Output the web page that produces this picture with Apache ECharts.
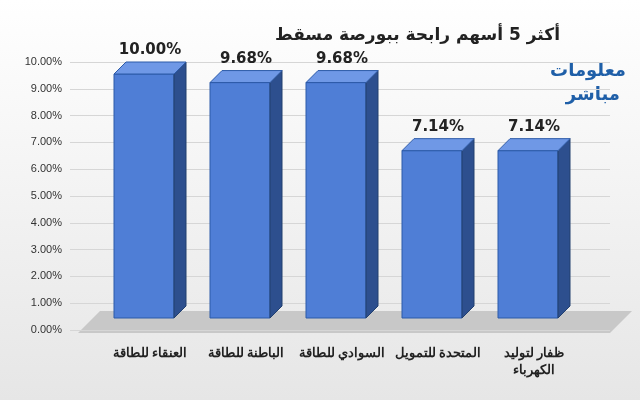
<!DOCTYPE html>
<html><head><meta charset="utf-8">
<script src="https://cdn.jsdelivr.net/npm/echarts@6/dist/echarts.min.js"></script>
<style>html,body{margin:0;padding:0;}#c{width:640px;height:400px;background:linear-gradient(#ffffff,#e6e6e6);}</style>
</head><body><div id="c"></div>
<script>
var categories = ['العنقاء للطاقة','الباطنة للطاقة','السوادي للطاقة','المتحدة للتمويل','ظفار لتوليد\nالكهرباء'];
var values = [10.00, 9.68, 9.68, 7.14, 7.14];
var chart = echarts.init(document.getElementById('c'));
var D = 12;
chart.setOption({
  title:{text:'أكثر 5 أسهم رابحة ببورصة مسقط',right:75,top:22,textStyle:{fontSize:17,fontWeight:'bold',color:'#222',fontFamily:'DejaVu Sans'}},
  graphic:[
    {type:'polygon',z:-1,shape:{points:[[78,333],[610,333],[632,311],[100,311]]},style:{fill:'#c8c8c8'}},
    {type:'text',right:14,top:62,style:{text:'معلومات',fill:'#1f5fa8',font:'bold 18px "DejaVu Sans"'}},
    {type:'text',right:20,top:86,style:{text:'مباشر',fill:'#1f5fa8',font:'bold 18px "DejaVu Sans"'}}
  ],
  grid:[{left:102,right:58,top:62,bottom:70},{left:70,right:30,top:62,bottom:70}],
  xAxis:[{type:'category',data:categories,gridIndex:0,axisLine:{show:false},axisTick:{show:false},
    axisLabel:{interval:0,color:'#222',fontSize:13,fontWeight:'bold',margin:15,lineHeight:17,fontFamily:'Liberation Sans'}},
    {type:'category',data:categories,gridIndex:1,show:false}],
  yAxis:[{type:'value',gridIndex:0,min:0,max:10,interval:1,show:false},
    {type:'value',gridIndex:1,min:0,max:10,interval:1,axisLabel:{formatter:function(v){return v.toFixed(2)+'%';},color:'#333',fontSize:11},
    splitLine:{lineStyle:{color:'#d6d6d6'}}}],
  series:[{type:'custom',data:values,xAxisIndex:0,yAxisIndex:0,
    renderItem:function(p,api){
      var i=api.value(0),v=api.value(1);
      var top=api.coord([i,v]),bot=api.coord([i,0]);
      var c=top[0]-6,l=c-30,r=c+30,yt=top[1]+D,yb=bot[1]-12;
      return {type:'group',children:[
        {type:'rect',shape:{x:l,y:yt,width:r-l,height:yb-yt},style:{fill:'#4f7ed6',stroke:'#2c5aa8',lineWidth:1}},
        {type:'polygon',shape:{points:[[r,yt],[r+D,yt-D],[r+D,yb-D],[r,yb]]},style:{fill:'#2d4f8e',stroke:'#22406f',lineWidth:1}},
        {type:'polygon',shape:{points:[[l,yt],[l+D,yt-D],[r+D,yt-D],[r,yt]]},style:{fill:'#6f98e6',stroke:'#2c5aa8',lineWidth:1}},
        {type:'text',style:{text:v.toFixed(2)+'%',x:c+6,y:yt-D-4,align:'center',verticalAlign:'bottom',fill:'#222',font:'bold 15px "DejaVu Sans"'}}
      ]};
    }}]
});
</script></body></html>
